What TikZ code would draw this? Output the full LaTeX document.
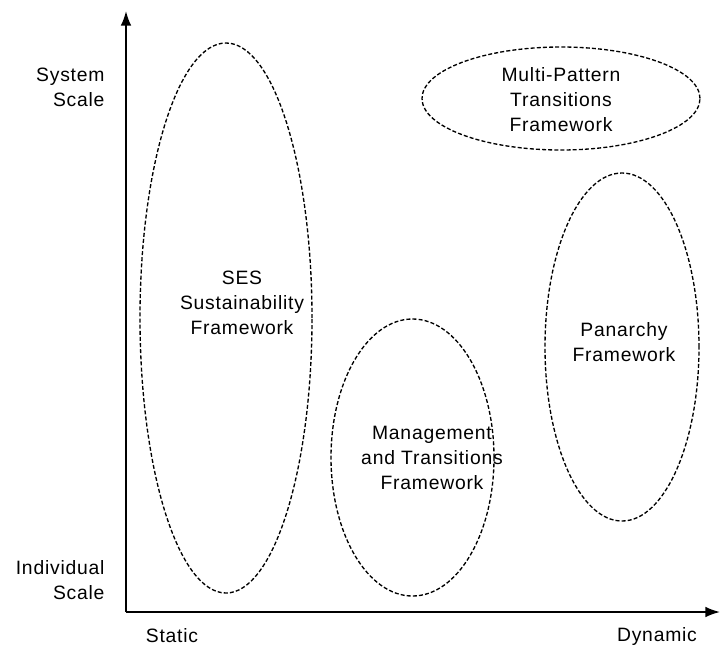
\documentclass[tikz,border=0pt]{standalone}
\usepackage{fontspec}
\setmainfont[LetterSpace=4]{Liberation Sans}
\usetikzlibrary{shapes.geometric,arrows.meta}

\tikzset{every picture/.style={line width=0.75pt}}
\tikzset{
  frame/.style={draw, ellipse, dashed, dash pattern=on 3pt off 1.6pt, line width=1pt, inner sep=0pt},
  lbl/.style={inner sep=0.75pt, align=center, font=\fontsize{14.5}{18.75}\selectfont},
  axis/.style={line width=1.3pt, -{Latex[length=11pt,width=8pt]}}
}

\begin{document}
\begin{tikzpicture}[x=0.75pt,y=0.75pt,yscale=-1,xscale=1]
        \useasboundingbox (0,0) rectangle (720,650);

        %Axes
        \coordinate (origin) at (126,612);
        \coordinate (ytop) at (126,11);
        \coordinate (xend) at (720,612);
        \draw[axis] (origin) -- (ytop);
        \draw[axis] (origin) -- (xend);

        %Shape: Ellipse
        \node[frame, minimum width=129pt, minimum height=412.5pt] (ses) at (226,318) {};
        %Shape: Ellipse
        \node[frame, minimum width=122.25pt, minimum height=207.75pt] (mgmt) at (412.5,457.5) {};
        %Shape: Ellipse
        \node[frame, minimum width=208.5pt, minimum height=77.25pt] (multi) at (561,98.5) {};
        %Shape: Ellipse
        \node[frame, minimum width=115.5pt, minimum height=261pt] (panarchy) at (622,347) {};

        % Text Node
        \node[lbl] (sestext) at (242,303) {SES\\Sustainability\\Framework};
        % Text Node
        \node[lbl] (mgmttext) at (432,458) {Management\\and Transitions\\Framework};
        % Text Node
        \node[lbl] (multitext) at (561,100) {Multi-Pattern\\Transitions\\Framework};
        % Text Node
        \node[lbl] (panarchytext) at (624,342) {Panarchy\\Framework};

        % Text Node
        \node[lbl, align=right, anchor=east] (system) at (106,87) {System\\Scale};
        % Text Node
        \node[lbl, align=right, anchor=east] (individual) at (106,580) {Individual\\Scale};
        % Text Node
        \node[lbl] (static) at (172,636) {Static};
        % Text Node
        \node[lbl] (dynamic) at (657,636) {Dynamic};

    \end{tikzpicture}
\end{document}
